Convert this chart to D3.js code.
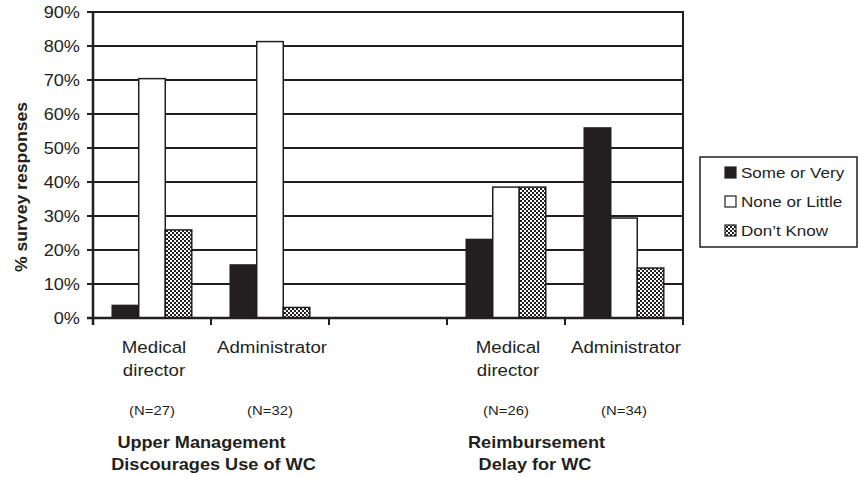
<!DOCTYPE html>
<html>
<head>
<meta charset="utf-8">
<script src="https://cdn.jsdelivr.net/npm/d3@7"></script>
<style>
  body { margin: 0; background: #fff; }
  svg { display: block; font-family: Arial, "Liberation Sans", sans-serif; }
</style>
</head>
<body>
<svg id="chart" width="859" height="477"></svg>
<script>
// slots along the x axis (third slot is the empty gap between the two groups)
const slots = ['md1', 'ad1', 'gap', 'md2', 'ad2']
const slotLabels = [['Medical', 'director'], ['Administrator'], [], ['Medical', 'director'], ['Administrator']]
const nLabels = ['(N=27)', '(N=32)', '', '(N=26)', '(N=34)']
const groupTitles = [['Upper Management', 'Discourages Use of WC'], ['Reimbursement', 'Delay for WC']]

const seriesNames = ['Some or Very', 'None or Little', 'Don\u2019t Know']
const someOrVery = [3.7, 15.6, null, 23.1, 55.9]
const noneOrLittle = [70.4, 81.3, null, 38.5, 29.4]
const dontKnow = [25.9, 3.1, null, 38.5, 14.7]
const yTicks = [0, 10, 20, 30, 40, 50, 60, 70, 80, 90]

const INK = '#231f20'
const SX = 1.1 // glyphs in the picture are a bit wider than tall

const svg = d3.select('#chart')

const margin = { top: 12, right: 176, bottom: 159, left: 93 }
const W = 859, H = 477

let x = d3.scaleBand().domain(slots).range([margin.left, W - margin.right])
let xSub = d3.scaleBand().domain(seriesNames).range([0, x.bandwidth()]).paddingInner(0).paddingOuter(0.725)
let y = d3.scaleLinear().domain([0, 90]).range([H - margin.bottom, margin.top])

const defs = svg.append('defs')
const pat = defs.append('pattern')
    .attr('id', 'checks')
    .attr('patternUnits', 'userSpaceOnUse')
    .attr('width', 4).attr('height', 4)
pat.append('rect').attr('width', 4).attr('height', 4).style('fill', '#fff')
pat.append('rect').attr('width', 2).attr('height', 2).style('fill', INK)
pat.append('rect').attr('x', 2).attr('y', 2).attr('width', 2).attr('height', 2).style('fill', INK)

const fills = [INK, '#fff', 'url(#checks)']

const txt = (g, str, px, py, size, opts = {}) => g.append('text')
    .attr('transform', `translate(${px},${py})${opts.rotate ? ` rotate(${opts.rotate})` : ''} scale(${SX},1)`)
    .attr('text-anchor', opts.anchor || 'middle')
    .style('font-size', `${size}px`)
    .style('font-weight', opts.bold ? 'bold' : 'normal')
    .style('fill', INK)
    .text(str)

// gridlines
svg.append('g').selectAll('line')
    .data(yTicks.filter(d => d > 0))
    .enter().append('line')
    .attr('x1', margin.left).attr('x2', W - margin.right)
    .attr('y1', d => y(d)).attr('y2', d => y(d))
    .style('stroke', INK).style('stroke-width', 2)

// bars
const table = slots.map((s, i) => ({ slot: s, vals: [someOrVery[i], noneOrLittle[i], dontKnow[i]] }))
const bars = svg.append('g')
table.forEach(row => {
    row.vals.forEach((v, j) => {
        if (v == null) return
        bars.append('rect')
            .attr('x', x(row.slot) + xSub(seriesNames[j]))
            .attr('y', y(v))
            .attr('width', xSub.bandwidth())
            .attr('height', y(0) - y(v))
            .style('fill', fills[j])
            .style('stroke', INK)
            .style('stroke-width', 1.5)
    })
})

// right border
svg.append('line')
    .attr('x1', W - margin.right).attr('x2', W - margin.right)
    .attr('y1', y(90) - 1).attr('y2', y(0) + 7)
    .style('stroke', INK).style('stroke-width', 2)

// y axis
svg.append('line')
    .attr('x1', margin.left).attr('x2', margin.left)
    .attr('y1', y(90) - 1).attr('y2', y(0) + 7)
    .style('stroke', INK).style('stroke-width', 2.5)
const yAx = svg.append('g')
yTicks.forEach(t => {
    yAx.append('line')
        .attr('x1', margin.left - 6).attr('x2', margin.left)
        .attr('y1', y(t)).attr('y2', y(t))
        .style('stroke', INK).style('stroke-width', 2)
    txt(yAx, `${t}%`, margin.left - 13, y(t) + 6, 16.5, { anchor: 'end' })
})

// x axis
svg.append('line')
    .attr('x1', margin.left - 6).attr('x2', W - margin.right)
    .attr('y1', y(0)).attr('y2', y(0))
    .style('stroke', INK).style('stroke-width', 2.5)
slots.forEach(s => {
    svg.append('line')
        .attr('x1', x(s)).attr('x2', x(s))
        .attr('y1', y(0)).attr('y2', y(0) + 7)
        .style('stroke', INK).style('stroke-width', 2)
})

// category labels and N
const xl = svg.append('g')
slots.forEach((s, i) => {
    let cx = x(s) + x.bandwidth() / 2 + 2
    slotLabels[i].forEach((l, k) => txt(xl, l, cx, 353 + k * 23, 17))
    if (nLabels[i]) txt(xl, nLabels[i], cx - 2, 415, 13.5)
})

// group titles
const titleOffsets = [[-9.5, 2.5], [-28.5, -30]]
const groupCenters = [x('ad1'), x('ad2')]
groupTitles.forEach((lines, g) => {
    lines.forEach((l, k) => txt(xl, l, groupCenters[g] + titleOffsets[g][k], 448 + k * 22, 16.5, { bold: true }))
})

// y title
txt(svg, '% survey responses', 27, 187, 16, { bold: true, rotate: -90 })

// legend
const lg = svg.append('g')
lg.append('rect')
    .attr('x', 700).attr('y', 157)
    .attr('width', 157).attr('height', 90)
    .style('fill', '#fff').style('stroke', INK).style('stroke-width', 1.5)
seriesNames.forEach((n, j) => {
    let by = 178 + j * 29
    lg.append('rect')
        .attr('x', 725).attr('y', by - 11)
        .attr('width', 11).attr('height', 11)
        .style('fill', fills[j]).style('stroke', INK).style('stroke-width', 1.2)
    txt(lg, n, 741, by, 15.5, { anchor: 'start' })
})
</script>
</body>
</html>
